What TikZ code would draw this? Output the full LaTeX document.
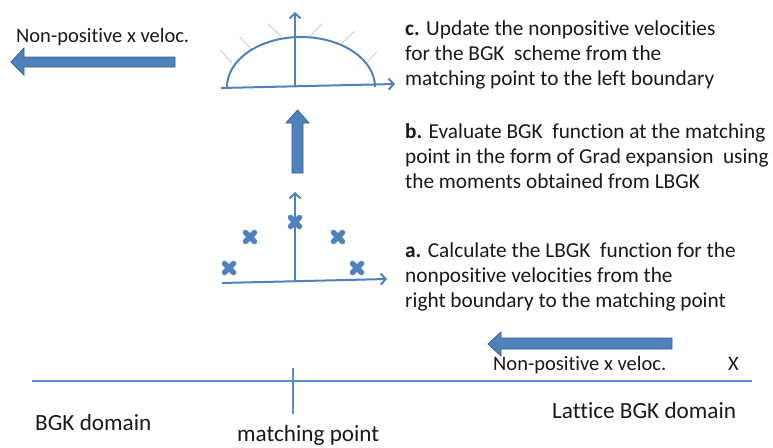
\documentclass[tikz,border=0pt]{standalone}
\usepackage{fontspec}
\setmainfont{Carlito}[Ligatures=NoCommon]
\usetikzlibrary{arrows.meta}
\definecolor{ablue}{HTML}{4F81BD}
\definecolor{adark}{HTML}{385D8A}
\definecolor{lblue}{HTML}{5B8DC8}
\tikzset{
  txt/.style={anchor=base west, align=left, inner sep=0pt, text=black!90,
              font=\fontsize{21.3}{25}\selectfont},
  lbl/.style={anchor=base west, inner sep=0pt, text=black!90,
              font=\fontsize{23.2}{27}\selectfont},
  vel/.style={anchor=base west, inner sep=0pt, text=black!90,
              font=\fontsize{20.5}{25}\selectfont},
  axis/.style={draw=ablue, line width=2pt, -{Straight Barb[length=5pt,width=11pt]}},
  curve/.style={draw=ablue, line width=2pt},
  ray/.style={draw=gray!55, line width=0.6pt},
  bigarrow/.style={fill=ablue, draw=adark, line width=0.8pt, line join=miter},
  xmark/.style={draw=ablue, line width=5.5pt, line cap=round},
  base/.style={draw=lblue, line width=1.5pt}
}
\begin{document}
\begin{tikzpicture}[x=1pt,y=-1pt]
\useasboundingbox (0,0) rectangle (773,447);

% ---- text blocks (anchored at the baseline of their last line)
\node[txt] (c) at (405,85) {\textbf{c.} Update the nonpositive velocities\\for the BGK\ \ scheme from the\\matching point to the left boundary};
\node[txt] (b) at (405,188) {\textbf{b.} Evaluate BGK\ \ function at the matching\\point in the form of Grad expansion\ \ using\\the moments obtained from LBGK};
\node[txt] (a) at (405,307) {\textbf{a.} Calculate the LBGK\ \ function for the\\nonpositive velocities from the\\right boundary to the matching point};

\node[vel] (vtop) at (16,42) {Non-positive x veloc.};
\node[vel] (vbot) at (493,370) {Non-positive x veloc.};
\node[vel] (xlab) at (728,370) {X};

\node[lbl] (bgk) at (35,430) {BGK domain};
\node[lbl] (mp) at (237,441) {matching point};
\node[lbl] (lbgk) at (552,418) {Lattice BGK domain};

% ---- base line and matching point tick
\coordinate (bl) at (32,381);
\coordinate (br) at (752,381);
\coordinate (tt) at (293,368);
\coordinate (tb) at (293,414);
\draw[base] (bl) -- (br);
\draw[base] (tt) -- (tb);

% ---- top graph (BGK distribution)
\coordinate (o1) at (295,87);
\draw[ray] (220,50) -- (232,63);
\draw[ray] (240,37) -- (252,50);
\draw[ray] (268,24) -- (282,37);
\draw[ray] (309,37) -- (322,24);
\draw[ray] (342,43) -- (355,31);
\draw[ray] (367,62) -- (377,52);
\draw[curve] (227,87) arc[start angle=180, end angle=0, x radius=74, y radius=-50];
\draw[axis] (221,88) -- (395,84);
\draw[axis] (o1) -- (295,12);

% ---- middle arrow up
\draw[bigarrow] (292,173) -- (292,123) -- (286,123) -- (297.5,110) -- (309,123) -- (303,123) -- (303,173) -- cycle;

% ---- lower graph (LBGK discrete velocities)
\coordinate (o2) at (295,281);
\draw[axis] (222,283) -- (387,279);
\draw[axis] (o2) -- (295,192);
\foreach \px/\py in {295/222, 250/237, 338/237, 229/268, 357/268}{
  \draw[xmark] (\px-4.5,\py-4.5) -- (\px+4.5,\py+4.5);
  \draw[xmark] (\px-4.5,\py+4.5) -- (\px+4.5,\py-4.5);
}

% ---- left arrows
\draw[bigarrow] (175,57) -- (24,57) -- (24,48) -- (11,62) -- (24,75) -- (24,67) -- (175,67) -- cycle;
\draw[bigarrow] (672,338) -- (501,338) -- (501,332) -- (488,344) -- (501,356) -- (501,349) -- (672,349) -- cycle;
\end{tikzpicture}
\end{document}
